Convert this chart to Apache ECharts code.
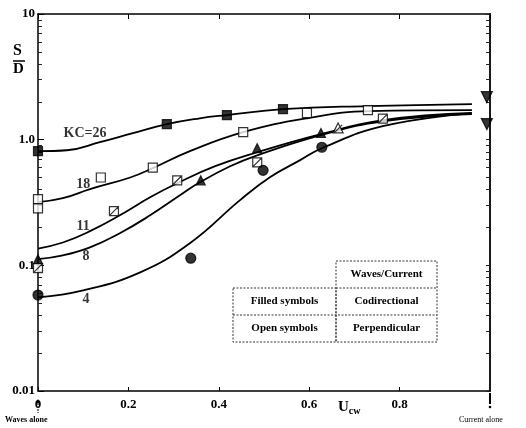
<!DOCTYPE html>
<html><head><meta charset="utf-8">
<script src="https://cdn.jsdelivr.net/npm/echarts@6/dist/echarts.min.js"></script>
<style>html,body{margin:0;padding:0;background:#fff}#c{width:526px;height:428px}</style>
</head><body><div id="c"></div>
<script>
// ---- data (U_cw, S/D) ----
const kc26 = [[0,0.81],[0.064,0.824],[0.137,0.955],[0.21,1.127],[0.285,1.33],[0.358,1.48],[0.418,1.57],[0.542,1.75],[0.728,1.85],[0.96,1.92]];
const kc18 = [[0,0.318],[0.055,0.342],[0.115,0.404],[0.204,0.5],[0.254,0.593],[0.336,0.81],[0.454,1.148],[0.595,1.48],[0.732,1.69],[0.96,1.72]];
const kc11 = [[0,0.136],[0.055,0.152],[0.115,0.187],[0.181,0.25],[0.248,0.348],[0.308,0.45],[0.392,0.615],[0.485,0.794],[0.626,1.106],[0.763,1.43],[0.96,1.63]];
const kc8  = [[0,0.112],[0.055,0.12],[0.115,0.139],[0.181,0.18],[0.248,0.25],[0.314,0.361],[0.358,0.458],[0.425,0.615],[0.485,0.751],[0.626,1.086],[0.763,1.40],[0.96,1.60]];
const kc4  = [[0,0.0556],[0.1,0.0632],[0.226,0.0879],[0.336,0.15],[0.447,0.33],[0.513,0.502],[0.58,0.687],[0.628,0.855],[0.763,1.28],[0.956,1.62]];

const filledSquares   = [[0,0.81],[0.285,1.33],[0.418,1.57],[0.542,1.75]];
const openSquares     = [[0,0.336],[0,0.284],[0.139,0.50],[0.254,0.60],[0.454,1.15],[0.595,1.63],[0.73,1.72]];
const filledTriangles = [[0,0.112],[0.36,0.475],[0.485,0.855],[0.626,1.13]];
const crossedSquares  = [[0,0.095],[0.168,0.27],[0.308,0.475],[0.485,0.66],[0.763,1.47]];
const crossedTriangles= [[0.664,1.24]];
const filledCircles   = [[0,0.058],[0.338,0.114],[0.498,0.57],[0.628,0.87]];
const currentAlone    = [[0.993,2.18],[0.993,1.33]];

const curveLabels = [[0.104,1.13,'KC=26'],[0.1,0.44,'18'],[0.1,0.205,'11'],[0.106,0.118,'8'],[0.106,0.0536,'4']];
const yTickLabels = {'-2':'0.01','-1':'0.1','0':'1.0','1':'10'};
const xTicks = ['0','0.2','0.4','0.6','0.8'];
const tableRows = [['','Waves/Current'],['Filled symbols','Codirectional'],['Open symbols','Perpendicular']];

const minorTicks = [];
[0.01,0.1,1].forEach(d=>{for(let k=2;k<=9;k++) minorTicks.push(+(k*d).toPrecision(3));});
const majorTicks = [0.01,0.1,1,10];

const SERIF = '"Liberation Serif","DejaVu Serif",serif';
const chart = echarts.init(document.getElementById('c'), null, {renderer:'canvas'});

function lineSeries(d){return {type:'line',data:d,smooth:0.45,showSymbol:false,symbol:'none',xAxisIndex:0,yAxisIndex:0,
  lineStyle:{color:'#000',width:1.8},z:2,silent:true,clip:false};}
function scat(d,symbol,size,fill,extra){return Object.assign({type:'scatter',data:d,symbol:symbol,symbolSize:size,clip:false,z:5,
  itemStyle:{color:fill,borderColor:'#000',borderWidth:1.2},silent:true},extra||{});}

const gLeft=38, gTop=14, gRight=36, gBottom=37;
const option = {
  animation:false,
  backgroundColor:'#fff',
  grid:{left:gLeft,top:gTop,right:gRight,bottom:gBottom,containLabel:false},
  xAxis:[
    {type:'value',min:0,max:1,interval:0.2,position:'bottom',
     axisLine:{show:true,lineStyle:{color:'#000',width:1.5}},
     axisTick:{show:true,inside:true,length:4,lineStyle:{color:'#000'}},
     axisLabel:{show:true,margin:7,showMaxLabel:false,fontFamily:SERIF,fontWeight:'bold',fontSize:13,color:'#000',
       formatter:(v)=>{const i=Math.round(v*5);return i<xTicks.length?xTicks[i]:'';}},
     splitLine:{show:false}},
    {type:'value',min:0,max:1,interval:0.2,position:'top',
     axisLine:{show:true,lineStyle:{color:'#000',width:1.5}},
     axisTick:{show:true,inside:true,length:5,lineStyle:{color:'#000'}},
     axisLabel:{show:false},splitLine:{show:false}}
  ],
  yAxis:[
    {type:'log',logBase:10,min:0.01,max:10,position:'left',
     axisLine:{show:true,lineStyle:{color:'#000',width:1.5}},
     axisTick:{show:true,inside:true,length:6,lineStyle:{color:'#000'}},
     axisLabel:{show:true,margin:3,fontFamily:SERIF,fontWeight:'bold',fontSize:13,color:'#000',
       formatter:(v)=>yTickLabels[String(Math.round(Math.log10(v)))]||''},
     splitLine:{show:false}},
    {type:'log',logBase:10,min:0.01,max:10,position:'left',
     axisLine:{show:false},
     axisTick:{show:true,inside:true,length:4,customValues:minorTicks,lineStyle:{color:'#222',width:1}},
     axisLabel:{show:false},splitLine:{show:false}},
    {type:'log',logBase:10,min:0.01,max:10,position:'right',
     axisLine:{show:true,lineStyle:{color:'#000',width:1.8}},
     axisTick:{show:true,inside:true,length:4,customValues:majorTicks.concat(minorTicks),lineStyle:{color:'#222',width:1}},
     axisLabel:{show:false},splitLine:{show:false}}
  ],
  series:[
    lineSeries(kc26),lineSeries(kc18),lineSeries(kc11),lineSeries(kc8),lineSeries(kc4),
    scat(filledSquares,'rect',9,'#000'),
    scat(openSquares,'rect',9,'#fff'),
    scat(filledTriangles,'triangle',9,'#000'),
    scat(crossedSquares,'path://M0,0L10,0L10,10L0,10ZM0,10L10,0',9,'#fff'),
    scat(crossedTriangles,'path://M5,0L10,10L0,10ZM1,10L9,2',10,'#fff'),
    scat(filledCircles,'circle',10,'#000'),
    scat(currentAlone,'triangle',11,'#000',{symbolRotate:180}),
    {type:'scatter',data:curveLabels,symbolSize:0,clip:false,silent:true,z:6,
     label:{show:true,position:'inside',formatter:(p)=>p.data[2],fontFamily:SERIF,fontWeight:'bold',fontSize:14,color:'#000'}}
  ],
  graphic:[
    {type:'text',left:13,top:43,style:{text:'S',font:'bold 16px '+SERIF,fill:'#000'}},
    {type:'line',shape:{x1:13,y1:61,x2:25,y2:61},style:{stroke:'#000',lineWidth:1.5}},
    {type:'text',left:13,top:62,style:{text:'D',font:'bold 15px '+SERIF,fill:'#000'}},
    {type:'text',left:338,top:400,style:{rich:{u:{font:'bold 15px '+SERIF,fill:'#000'},s:{font:'bold 10px '+SERIF,fill:'#000',padding:[8,0,0,0]}},text:'{u|U}{s|cw}'}},
    {type:'line',shape:{x1:38,y1:400,x2:38,y2:413},style:{stroke:'#000',lineWidth:1,lineDash:[2,1]}},
    {type:'polygon',shape:{points:[[36,403],[40,403],[38,399]]},style:{fill:'#000'}},
    {type:'text',left:5,top:416,style:{text:'Waves alone',font:'bold 8px '+SERIF,fill:'#000'}},
    {type:'line',shape:{x1:490,y1:393,x2:490,y2:404},style:{stroke:'#000',lineWidth:2}},
    {type:'circle',shape:{cx:490,cy:407,r:1.3},style:{fill:'#000'}},
    {type:'text',left:459,top:416,style:{text:'Current alone',font:'8px '+SERIF,fill:'#000'}},
    {type:'group',children:(function(){
      const els=[];const ds=[2,1.5];const st={stroke:'#333',lineWidth:1,lineDash:ds,fill:'none'};
      const xL=233,xM=336,xR=437,ys=[261,288,315,342];
      els.push({type:'rect',shape:{x:xM,y:ys[0],width:xR-xM,height:ys[3]-ys[0]},style:st});
      els.push({type:'rect',shape:{x:xL,y:ys[1],width:xM-xL,height:ys[3]-ys[1]},style:st});
      els.push({type:'line',shape:{x1:xL,y1:ys[2],x2:xR,y2:ys[2]},style:st});
      els.push({type:'line',shape:{x1:xM,y1:ys[1],x2:xR,y2:ys[1]},style:st});
      tableRows.forEach((r,i)=>{
        const cy=(ys[i]+ys[i+1])/2;
        if(r[0]) els.push({type:'text',x:(xL+xM)/2,y:cy,style:{text:r[0],font:'bold 11px '+SERIF,fill:'#000',align:'center',verticalAlign:'middle'}});
        els.push({type:'text',x:(xM+xR)/2,y:cy,style:{text:r[1],font:'bold 11px '+SERIF,fill:'#000',align:'center',verticalAlign:'middle'}});
      });
      return els;})()}
  ]
};
chart.setOption(option);
</script></body></html>
